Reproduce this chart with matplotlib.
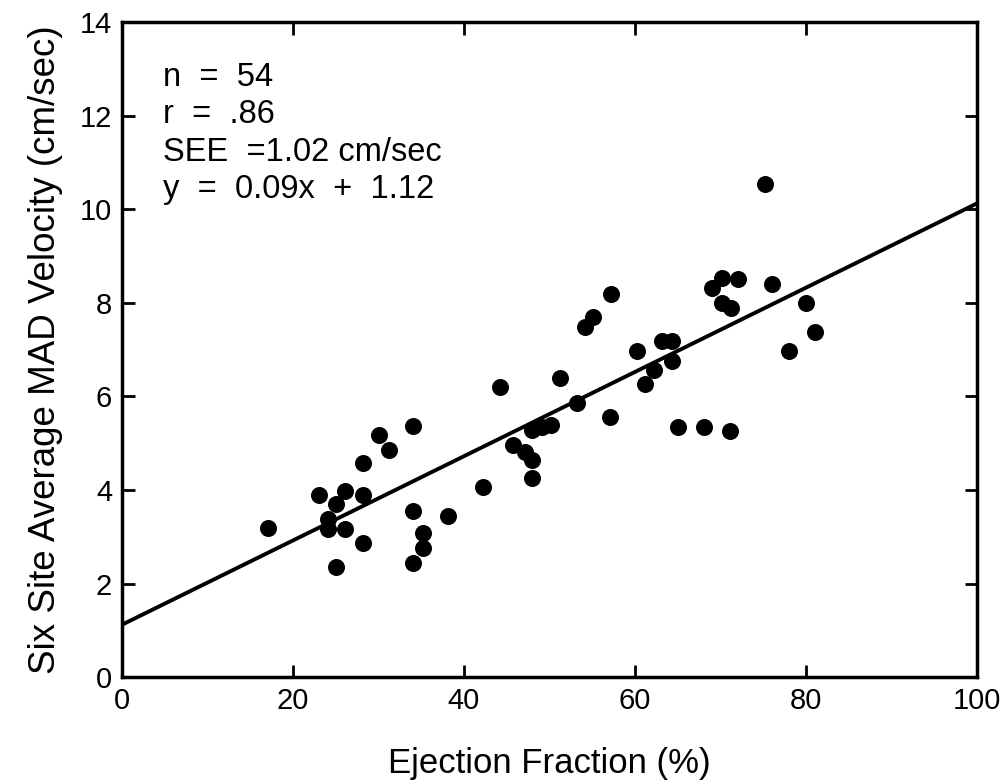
import numpy as np
import matplotlib.pyplot as plt

# ejection fraction (%) vs six site average MAD velocity (cm/sec)
ef = [17.1, 23.1, 24.1, 24.1, 25.1, 25.1, 26.1, 26.1, 28.2, 28.2,
      28.2, 30.1, 31.2, 34.1, 34.1, 34.1, 35.2, 35.2, 38.1, 42.2,
      44.2, 45.8, 47.1, 48.0, 48.0, 48.0, 49.2, 50.2, 51.2, 53.2,
      54.2, 55.1, 57.2, 57.1, 60.2, 61.2, 62.3, 63.2, 64.3, 64.3,
      65.1, 68.1, 69.0, 70.2, 70.2, 71.3, 71.1, 72.1, 75.2, 76.1,
      78.0, 80.0, 81.1]
mad = [3.18, 3.89, 3.38, 3.16, 3.70, 2.35, 3.97, 3.16, 3.89, 2.86,
       4.57, 5.17, 4.85, 5.36, 3.55, 2.44, 3.08, 2.76, 3.44, 4.06,
       6.20, 4.96, 4.81, 4.64, 4.25, 5.28, 5.34, 5.38, 6.39, 5.85,
       7.48, 7.69, 8.18, 5.56, 6.97, 6.26, 6.56, 7.18, 7.18, 6.75,
       5.34, 5.34, 8.31, 8.53, 7.99, 7.88, 5.26, 8.50, 10.53, 8.40,
       6.97, 7.99, 7.37]

slope, intercept = 0.09, 1.12
stats = ["n  =  54", "r  =  .86", "SEE  =1.02 cm/sec", "y  =  0.09x  +  1.12"]

narrow = ['Liberation Sans Narrow', 'Liberation Sans', 'DejaVu Sans']
plt.rcParams['font.family'] = ['Liberation Sans', 'DejaVu Sans']

fig = plt.figure(figsize=(10.07, 7.82), dpi=100)
ax = fig.add_axes([0.121, 0.134, 0.849, 0.838])

ax.scatter(ef, mad, s=150, color='black', zorder=3, linewidths=0)
xl = np.array([0, 100])
ax.plot(xl, slope * xl + intercept, color='black', lw=2.8)

ax.set_xlim(0, 100)
ax.set_ylim(0, 14)
ax.set_xticks(range(0, 101, 20))
ax.set_yticks(range(0, 15, 2))
ax.tick_params(direction='in', length=9, width=2, top=True, right=True,
               labelsize=21, pad=7)
for lab in ax.get_xticklabels() + ax.get_yticklabels():
    lab.set_family(narrow)
for s in ax.spines.values():
    s.set_linewidth(2.5)

ax.set_xlabel("Ejection Fraction (%)", fontsize=25, family=narrow, labelpad=23)
ax.set_ylabel("Six Site Average MAD Velocity (cm/sec)", fontsize=26.5, labelpad=12)

for i, t in enumerate(stats):
    ax.text(0.048, 0.915 - i * 0.057, t, transform=ax.transAxes,
            fontsize=23.5, va='center', ha='left')

fig.savefig("out.png", dpi=100)
